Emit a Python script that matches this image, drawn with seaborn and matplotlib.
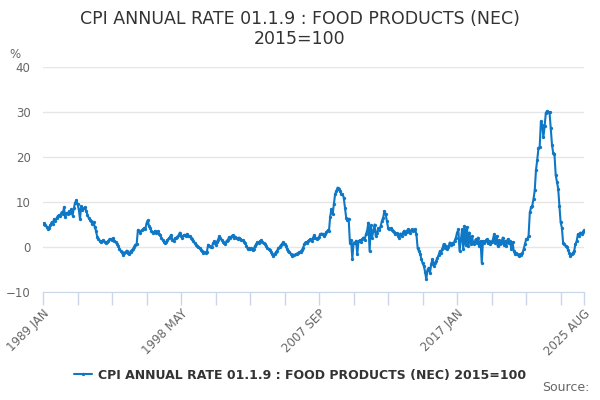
import numpy as np
import pandas as pd

import matplotlib
matplotlib.use("Agg")
import matplotlib.pyplot as plt
import seaborn as sns

series_name = "CPI ANNUAL RATE 01.1.9 : FOOD PRODUCTS (NEC) 2015=100"
title = "CPI ANNUAL RATE 01.1.9 : FOOD PRODUCTS (NEC)\n2015=100"
start_month = "1989-01-01"

# monthly annual rate (%), one list per year
y1989 = [5.1, 5.3, 4.8, 4.5, 3.9, 4.2, 4.9, 5.5, 5.2, 6.2, 5.8, 6.4]
y1990 = [6.9, 7.1, 6.8, 7.7, 7.3, 8.8, 6.7, 7.5, 7.4, 7.9, 7.6, 8.4]
y1991 = [7.0, 8.6, 9.8, 10.4, 9.5, 8.4, 6.2, 9.1, 8.2, 8.6, 8.8, 8.1]
y1992 = [7.2, 6.5, 6.1, 5.8, 5.1, 5.6, 4.4, 3.6, 2.2, 1.8, 1.4, 1.1]
y1993 = [1.3, 1.5, 1.2, 0.9, 1.1, 1.4, 1.8, 1.7, 1.5, 2.0, 1.4, 1.1]
y1994 = [0.7, 0.2, -0.4, -0.9, -1.2, -1.8, -1.3, -1.1, -0.8, -1.4, -1.5, -1.0]
y1995 = [-0.7, -0.5, 0.1, 0.5, 0.7, 3.8, 3.5, 3.2, 3.7, 3.9, 4.2, 3.9]
y1996 = [5.3, 5.9, 4.6, 4.2, 3.5, 3.1, 3.3, 3.6, 3.2, 3.5, 3.0, 2.6]
y1997 = [2.0, 1.6, 1.2, 0.9, 1.1, 1.6, 1.9, 2.2, 2.7, 1.5, 1.4, 1.9]
y1998 = [2.0, 2.3, 2.6, 3.2, 2.5, 2.1, 2.6, 2.7, 2.4, 2.9, 2.5, 2.4]
y1999 = [2.1, 1.7, 1.3, 0.9, 0.5, 0.3, 0.1, -0.2, -0.6, -0.9, -1.3, -1.1]
y2000 = [-1.4, -1.0, 0.5, 0.3, -0.1, 0.1, 0.8, 1.3, 0.5, 1.1, 1.6, 2.4]
y2001 = [1.9, 1.6, 1.2, 0.9, 0.7, 1.4, 1.6, 2.2, 2.0, 2.4, 2.6, 1.9]
y2002 = [2.3, 1.9, 1.7, 2.1, 1.8, 1.6, 1.5, 1.2, 0.8, 0.3, -0.4, -0.2]
y2003 = [-0.5, -0.3, -0.7, -0.4, 0.2, 0.6, 1.1, 0.9, 1.3, 1.5, 1.2, 0.8]
y2004 = [0.6, 0.2, -0.2, -0.5, -0.7, -1.0, -1.5, -1.9, -1.6, -1.1, -0.8, -0.3]
y2005 = [0.0, 0.4, 0.7, 1.1, 0.6, 0.2, -0.4, -0.8, -1.2, -1.5, -1.9, -1.7]
y2006 = [-1.8, -1.6, -1.5, -1.3, -1.2, -1.0, -0.7, -0.2, 0.6, 1.1, 0.8, 1.3]
y2007 = [1.5, 1.7, 1.4, 2.0, 2.6, 2.1, 1.8, 1.9, 2.3, 2.8, 3.0, 2.8]
y2008 = [2.4, 2.9, 3.3, 3.7, 3.5, 6.7, 8.4, 7.3, 9.5, 11.7, 12.4, 13.2]
y2009 = [12.8, 12.4, 11.7, 11.8, 11.0, 8.7, 6.5, 6.1, 6.3, 1.0, 1.5, -2.7]
y2010 = [1.0, 0.8, 1.4, -1.6, 1.3, 1.5, 1.2, 1.7, 2.1, 1.6, 2.8, 3.6]
y2011 = [5.4, -0.9, 4.8, 2.1, 3.6, 5.0, 2.4, 3.1, 4.2, 3.8, 4.7, 5.8]
y2012 = [6.5, 8.0, 7.3, 5.8, 4.3, 3.9, 4.2, 3.8, 3.6, 3.3, 2.8, 3.1]
y2013 = [2.5, 2.1, 3.0, 2.4, 3.2, 3.6, 2.8, 3.4, 3.9, 3.6, 3.2, 3.9]
y2014 = [3.5, 3.8, 3.9, 2.8, -0.3, -0.9, -1.5, -2.7, -3.6, -4.2, -5.5, -7.2]
y2015 = [-5.0, -4.6, -5.7, -3.8, -2.7, -4.2, -3.5, -3.1, -2.4, -1.8, -0.9, -1.3]
y2016 = [-0.4, 0.6, -0.2, 0.3, -0.5, -0.1, 1.0, 0.4, 0.8, 0.6, 1.4, 2.1]
y2017 = [3.2, 3.9, -0.9, 1.5, 3.9, -0.5, 4.7, 0.4, 4.4, 0.2, 3.2, 0.6]
y2018 = [2.4, 1.0, 0.6, 1.7, 1.0, 2.1, 0.2, 1.3, -3.5, 1.3, 0.9, 1.4]
y2019 = [1.7, 0.8, 1.3, 0.6, 1.2, 1.6, 2.8, 1.0, 2.4, 0.2, 1.5, 0.6]
y2020 = [0.9, 2.1, 0.5, 1.3, 0.2, 1.7, 0.8, 1.3, -0.4, 1.1, -0.9, -1.6]
y2021 = [-1.3, -1.6, -2.0, -1.6, -1.8, -1.4, -0.5, 0.6, 1.7, 1.8, 2.5, 7.7]
y2022 = [8.8, 9.2, 10.7, 12.6, 17.1, 19.3, 21.9, 22.3, 27.9, 27.2, 24.4, 26.8]
y2023 = [29.8, 30.2, 30.0, 29.9, 26.4, 22.7, 20.8, 20.6, 16.0, 14.5, 13.0, 9.2]
y2024 = [5.5, 4.3, 1.0, 0.6, 0.2, 0.0, -0.6, -1.3, -2.0, -1.6, -1.3, -0.9]
y2025 = [0.6, 1.3, 2.8, 2.4, 3.2, 2.9, 3.4, 3.7]

years = [y1989, y1990, y1991, y1992, y1993, y1994, y1995, y1996, y1997,
         y1998, y1999, y2000, y2001, y2002, y2003, y2004, y2005, y2006,
         y2007, y2008, y2009, y2010, y2011, y2012, y2013, y2014, y2015,
         y2016, y2017, y2018, y2019, y2020, y2021, y2022, y2023, y2024,
         y2025]
values = [v for yr in years for v in yr]

dates = pd.date_range(start_month, periods=len(values), freq="MS")
df = pd.DataFrame({"idx": np.arange(len(values)), "value": values})

line_color = "#0e78c6"
text_color = "#333333"
tick_color = "#666666"
axis_color = "#ccd6eb"

sns.set_style("white")
plt.rcParams["font.family"] = ["DejaVu Sans"]

fig = plt.figure(figsize=(6, 4), dpi=100)
ax = fig.add_axes([0.0717, 0.27, 0.9017, 0.5625])

sns.lineplot(data=df, x="idx", y="value", ax=ax, color=line_color,
             linewidth=1.5, marker="o", markersize=2.4, markeredgewidth=0,
             label=series_name)

ax.set_xlim(0, len(values) - 1)
ax.set_ylim(-10, 40)
ax.set_yticks([-10, 0, 10, 20, 30, 40])
ax.yaxis.grid(True, color="#e6e6e6", linewidth=1)
ax.set_axisbelow(True)

for s in ["top", "right", "left"]:
    ax.spines[s].set_visible(False)
ax.spines["bottom"].set_color(axis_color)
ax.set_xlabel("")
ax.set_ylabel("")

ax.tick_params(axis="x", which="both", direction="out", length=9, width=1,
               color=axis_color, pad=2, bottom=True)
ax.tick_params(axis="y", length=0, labelsize=8.5, labelcolor=tick_color, pad=9)

major = [0, 112, 224, 336, len(values) - 1]
ax.set_xticks(major)
ax.set_xticks(list(range(0, len(values), 28)) + [len(values) - 1], minor=True)
ax.set_xticklabels([f"{dates[i].year} {dates[i].strftime('%b').upper()}" for i in major],
                   rotation=45, ha="right", rotation_mode="anchor",
                   fontsize=8.5, color=tick_color)

fig.text(0.5, 0.975, title, ha="center", va="top", fontsize=12.5,
         color=text_color, linespacing=1.15)
fig.text(0.015, 0.855, "%", fontsize=8.5, color=tick_color)
fig.text(0.982, 0.015, "Source:", ha="right", va="bottom", fontsize=9,
         color=tick_color)

leg = ax.legend(loc="upper center", bbox_to_anchor=(0.475, -0.29), frameon=False,
                prop={"weight": "bold", "size": 9}, handlelength=1.4,
                handletextpad=0.5, labelcolor=text_color)

fig.savefig("out.png", dpi=100)
